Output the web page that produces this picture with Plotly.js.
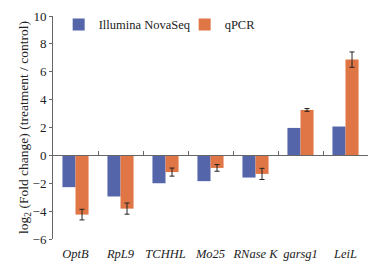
<!DOCTYPE html>
<html>
<head>
<meta charset="utf-8">
<script src="https://cdn.plot.ly/plotly-3.0.1.min.js"></script>
<style>html,body{margin:0;padding:0;background:#fff;}#chart{width:383px;height:264px;}</style>
</head>
<body>
<div id="chart"></div>
<script>
const genes = ['OptB', 'RpL9', 'TCHHL', 'Mo25', 'RNase K', 'garsg1', 'LeiL'];
const seqValues = [-2.28, -2.95, -2.0, -1.85, -1.59, 1.97, 2.07];
const qpcrValues = [-4.25, -3.82, -1.2, -0.9, -1.33, 3.26, 6.87];
const qpcrErrors = [0.38, 0.4, 0.29, 0.24, 0.4, 0.1, 0.55];
const seriesNames = ['Illumina NovaSeq', 'qPCR'];
const geneLabels = genes.map(g => '<i>' + g + '</i>');

const serif = 'Liberation Serif';
const axisColor = '#666';
const legendFont = {family: serif, size: 12.5, color: '#222'};

const traces = [
  {type: 'bar', name: seriesNames[0], x: genes, y: seqValues, legend: 'legend',
   marker: {color: '#5565a9', line: {width: 0}}},
  {type: 'bar', name: seriesNames[1], x: genes, y: qpcrValues, legend: 'legend2',
   marker: {color: '#e07645', line: {width: 0}},
   error_y: {type: 'data', array: qpcrErrors, visible: true, color: '#222', thickness: 1, width: 2.5}},
  {type: 'scatter', mode: 'markers', x: genes, y: genes.map(() => 0), xaxis: 'x2',
   marker: {opacity: 0}, showlegend: false, hoverinfo: 'skip'}
];

const layout = {
  width: 383, height: 264,
  margin: {l: 53, r: 15, t: 16, b: 25, autoexpand: false},
  paper_bgcolor: '#fff', plot_bgcolor: '#fff',
  font: {family: serif, size: 12, color: '#222'},
  barmode: 'group', bargap: 0.42, bargroupgap: 0,
  showlegend: true,
  legend: {orientation: 'h', x: 0.018, y: 1.027, xanchor: 'left', yanchor: 'top',
           font: legendFont, bgcolor: 'rgba(0,0,0,0)', itemwidth: 30},
  legend2: {orientation: 'h', x: 0.418, y: 1.027, xanchor: 'left', yanchor: 'top',
           font: legendFont, bgcolor: 'rgba(0,0,0,0)', itemwidth: 30},
  xaxis: {type: 'category', anchor: 'free', position: 0.375,
          showline: true, linecolor: axisColor, linewidth: 1,
          ticks: 'inside', tickson: 'boundaries', ticklen: 4, tickcolor: axisColor,
          showticklabels: false, showgrid: false, zeroline: false, fixedrange: true},
  xaxis2: {type: 'category', overlaying: 'x', matches: 'x', anchor: 'y', side: 'bottom',
           showline: false, ticks: '', showgrid: false, zeroline: false,
           tickvals: genes, ticktext: geneLabels, ticklabelstandoff: 5,
           tickfont: {family: serif, size: 12.5, color: '#222'}},
  yaxis: {range: [-6, 10], dtick: 2, tick0: 0,
          showline: true, linecolor: axisColor, linewidth: 1,
          ticks: 'outside', ticklen: 3, tickcolor: axisColor,
          showgrid: false, zeroline: false,
          tickfont: {family: serif, size: 13, color: '#222'},
          title: {text: 'log<sub>2</sub> (Fold change) (treatment / control)',
                  font: {family: serif, size: 13.5, color: '#222'}, standoff: 0}}
};

Plotly.newPlot('chart', traces, layout, {displayModeBar: false, staticPlot: true});
</script>
</body>
</html>
